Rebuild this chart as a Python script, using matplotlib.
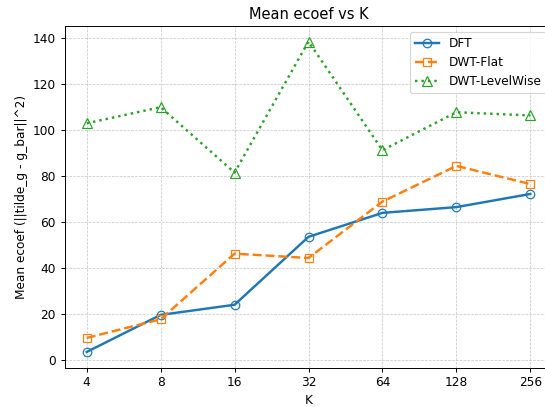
import matplotlib
matplotlib.use("Agg")
import matplotlib.pyplot as plt

# values
K = [4, 8, 16, 32, 64, 128, 256]
dft = [3.5, 19.6, 24.0, 53.5, 63.9, 66.4, 72.1]
dwt_flat = [9.6, 17.7, 46.2, 44.3, 68.8, 84.3, 76.4]
dwt_level = [102.8, 109.8, 81.4, 138.3, 91.1, 107.6, 106.2]

DPI = 87.5
fig = plt.figure(figsize=(545 / DPI, 407 / DPI), dpi=DPI)
# axes run past the right edge, as in the reference crop
ax = fig.add_axes([64.5 / 545, 1 - 367.5 / 407, 488 / 545, 341.5 / 407])

ax.plot(K, dft, "-o", color="#1f77b4", lw=2, ms=7, mfc="none", label="DFT")
ax.plot(K, dwt_flat, "--s", color="#ff7f0e", lw=2, ms=7, mfc="none", label="DWT-Flat")
ax.plot(K, dwt_level, ":^", color="#2ca02c", lw=2, ms=8, mfc="none", label="DWT-LevelWise")

ax.set_xscale("log", base=2)
ax.set_xticks(K)
ax.set_xticklabels([str(k) for k in K])
ax.minorticks_off()

ax.set_title("Mean ecoef vs K")
ax.set_xlabel("K")
ax.set_ylabel("Mean ecoef (||tilde_g - g_bar||^2)")
ax.grid(True, ls="--", lw=0.6, color="#b0b0b0", alpha=0.7)
ax.legend(loc="upper right")

fig.savefig("out.png", dpi=DPI)
